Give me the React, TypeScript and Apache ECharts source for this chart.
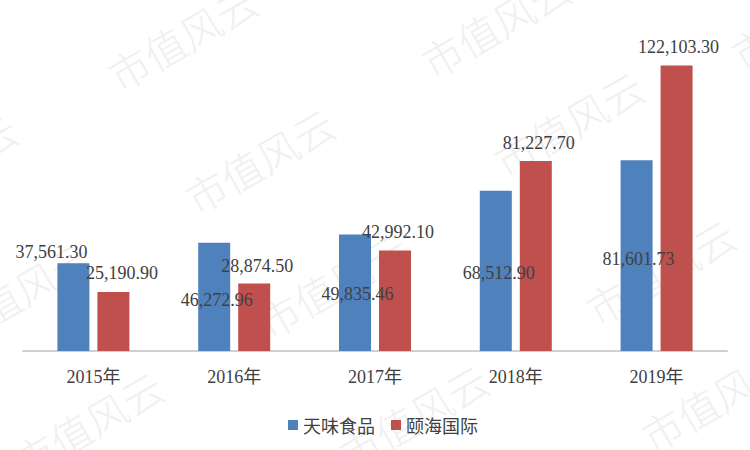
import React, { useEffect, useRef } from "react";
import * as echarts from "echarts";

const categories = ["2015年", "2016年", "2017年", "2018年", "2019年"];
const seriesNames = ["天味食品", "颐海国际"];
const tianweiValues = [37561.3, 46272.96, 49835.46, 68512.9, 81601.73];
const yihaiValues = [25190.9, 28874.5, 42992.1, 81227.7, 122103.3];
const watermarkText = "市值风云";

// label offsets (styling) relative to the top of each bar
const tianweiLabelOffsets = [[-22, -2], [2.5, 66], [2.5, 69], [3, 91], [2, 107.5]];
const yihaiLabelOffsets = [[8.5, -10], [3, -8.5], [3, -9.5], [3, -9.5], [2, -9]];
// watermark centres (styling)
const watermarkCenters = [
  [182, 37], [495, 24], [805, 16],
  [-58, 166], [259, 160], [568, 123],
  [17, 292], [332, 284], [660, 271],
  [88, 423], [413, 416], [715, 398],
];

const SERIF = "'Liberation Serif', 'Times New Roman', 'Noto Sans CJK SC', serif";

function fmt(v: number) {
  return v.toLocaleString("en-US", { minimumFractionDigits: 2, maximumFractionDigits: 2 });
}

export default function App() {
  const ref = useRef<HTMLDivElement>(null);
  useEffect(() => {
    if (!ref.current) return;
    const chart = echarts.init(ref.current, undefined, { renderer: "svg" });
    const mkData = (vals: number[], offs: number[][]) =>
      vals.map((v, i) => ({
        value: v,
        label: { offset: offs[i] },
      }));
    const labelStyle = {
      show: true,
      position: "top" as const,
      distance: 0,
      fontSize: 18,
      fontFamily: SERIF,
      color: "#404040",
      formatter: (p: any) => fmt(p.value),
    };
    chart.setOption({
      animation: false,
      backgroundColor: "#ffffff",
      graphic: watermarkCenters.map(([x, y]) => ({
        type: "text",
        x,
        y,
        z: 0,
        silent: true,
        rotation: (30 * Math.PI) / 180,
        style: {
          text: watermarkText,
          fill: "#f0f0f0",
          fontSize: 41,
          fontFamily: "'Noto Sans CJK SC'",
          fontWeight: 300,
          align: "center",
          verticalAlign: "middle",
          textAlign: "center",
          textVerticalAlign: "middle",
        },
      })),
      grid: { left: 23, right: 23, top: 47, bottom: 99, containLabel: false },
      legend: {
        data: seriesNames,
        left: 283,
        top: 411,
        icon: "rect",
        itemWidth: 10,
        itemHeight: 10,
        itemGap: 16,
        textStyle: {
          fontSize: 18,
          fontFamily: "'Noto Sans CJK SC'",
          color: "#404040",
        },
      },
      xAxis: {
        type: "category",
        data: categories,
        axisLine: { lineStyle: { color: "#d0d0d0", width: 2 } },
        axisTick: { show: false },
        axisLabel: {
          fontSize: 18,
          fontFamily: SERIF,
          color: "#404040",
          margin: 17,
        },
      },
      yAxis: {
        type: "value",
        min: 0,
        max: 130000,
        show: false,
        splitLine: { show: false },
      },
      series: [
        {
          name: seriesNames[0],
          type: "bar",
          z: 2,
          barWidth: 32,
          barGap: "25%",
          itemStyle: { color: "#4F81BD" },
          label: labelStyle,
          data: mkData(tianweiValues, tianweiLabelOffsets),
        },
        {
          name: seriesNames[1],
          type: "bar",
          z: 2,
          barWidth: 32,
          barGap: "25%",
          itemStyle: { color: "#C0504D" },
          label: labelStyle,
          data: mkData(yihaiValues, yihaiLabelOffsets),
        },
      ],
    });
    return () => chart.dispose();
  }, []);
  return (
    <div
      ref={ref}
      style={{ position: "fixed", left: 0, top: 0, width: 750, height: 450 }}
    />
  );
}
